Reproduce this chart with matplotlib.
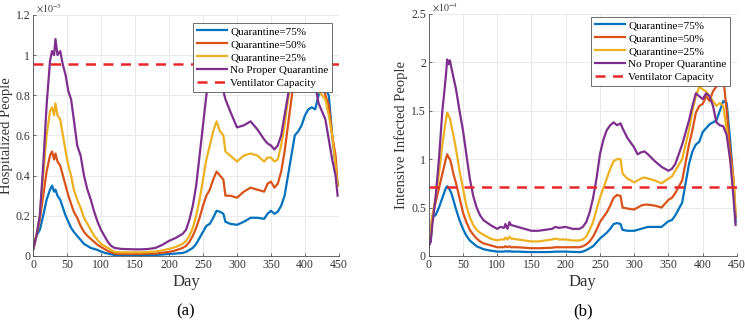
# -*- coding: utf-8 -*-

import matplotlib
matplotlib.use('Agg')
import matplotlib.pyplot as plt
from matplotlib.ticker import FuncFormatter

plt.rcParams['font.family'] = ['Liberation Serif', 'DejaVu Serif']
plt.rcParams['mathtext.fontset'] = 'stix'

# Data, panel (a): hospitalized people (units of 1e-3) ------------------------

day_a = [0, 5, 10, 15, 20, 25, 28, 31, 33, 36,
         40, 44, 48, 52, 56, 60, 65, 70, 75, 80,
         85, 90, 95, 100, 105, 110, 115, 120, 130, 140,
         150, 160, 170, 180, 190, 200, 210, 220, 225, 230,
         235, 240, 245, 250, 255, 260, 265, 270, 275, 280,
         283, 290, 300, 310, 320, 330, 340, 345, 350, 355,
         360, 365, 370, 375, 380, 385, 390, 395, 400, 405,
         410, 415, 420, 425, 430, 435, 440, 445, 448]

q75_a = [0.03, 0.10, 0.13, 0.20, 0.28, 0.33, 0.35, 0.32, 0.33, 0.30,
         0.28, 0.24, 0.20, 0.17, 0.14, 0.12, 0.10, 0.08, 0.06, 0.05,
         0.04, 0.035, 0.03, 0.022, 0.016, 0.012, 0.008, 0.005, 0.004, 0.004,
         0.004, 0.004, 0.005, 0.005, 0.007, 0.01, 0.012, 0.015, 0.02, 0.03,
         0.04, 0.06, 0.09, 0.12, 0.15, 0.16, 0.19, 0.225, 0.22, 0.21,
         0.17, 0.16, 0.155, 0.17, 0.19, 0.19, 0.185, 0.21, 0.225, 0.21,
         0.22, 0.25, 0.30, 0.40, 0.50, 0.60, 0.62, 0.65, 0.70, 0.73,
         0.74, 0.73, 0.80, 0.85, 0.83, 0.80, 0.60, 0.45, 0.35]

q50_a = [0.03, 0.10, 0.18, 0.30, 0.42, 0.50, 0.52, 0.48, 0.51, 0.47,
         0.45, 0.40, 0.35, 0.30, 0.26, 0.22, 0.19, 0.15, 0.12, 0.10,
         0.085, 0.07, 0.055, 0.045, 0.035, 0.025, 0.018, 0.012, 0.01, 0.01,
         0.01, 0.01, 0.012, 0.012, 0.016, 0.02, 0.028, 0.04, 0.05, 0.07,
         0.10, 0.14, 0.19, 0.25, 0.30, 0.33, 0.38, 0.42, 0.40, 0.38,
         0.30, 0.30, 0.29, 0.32, 0.34, 0.33, 0.32, 0.36, 0.37, 0.34,
         0.36, 0.42, 0.52, 0.65, 0.78, 0.90, 0.97, 1.00, 1.02, 1.00,
         0.98, 0.95, 0.90, 0.85, 0.80, 0.75, 0.60, 0.50, 0.35]

q25_a = [0.03, 0.10, 0.20, 0.40, 0.60, 0.72, 0.74, 0.70, 0.76, 0.70,
         0.68, 0.60, 0.52, 0.45, 0.40, 0.33, 0.28, 0.24, 0.19, 0.16,
         0.13, 0.10, 0.08, 0.06, 0.05, 0.04, 0.03, 0.02, 0.018, 0.018,
         0.018, 0.018, 0.02, 0.022, 0.028, 0.035, 0.045, 0.06, 0.075, 0.10,
         0.14, 0.20, 0.28, 0.38, 0.48, 0.55, 0.62, 0.67, 0.62, 0.60,
         0.52, 0.50, 0.47, 0.50, 0.51, 0.50, 0.47, 0.49, 0.49, 0.47,
         0.48, 0.55, 0.65, 0.78, 0.88, 0.98, 1.05, 1.08, 1.05, 1.00,
         0.95, 0.88, 0.82, 0.80, 0.78, 0.70, 0.60, 0.45, 0.35]

noq_a = [0.03, 0.10, 0.20, 0.45, 0.75, 0.97, 1.02, 1.00, 1.08, 1.00,
         1.02, 0.95, 0.90, 0.82, 0.78, 0.68, 0.55, 0.50, 0.40, 0.33,
         0.28, 0.22, 0.17, 0.13, 0.10, 0.07, 0.05, 0.04, 0.035, 0.034,
         0.033, 0.033, 0.035, 0.04, 0.055, 0.075, 0.09, 0.11, 0.13, 0.18,
         0.25, 0.35, 0.50, 0.65, 0.80, 0.92, 1.00, 1.03, 0.98, 0.82,
         0.78, 0.72, 0.64, 0.65, 0.67, 0.63, 0.58, 0.56, 0.55, 0.53,
         0.55, 0.60, 0.70, 0.80, 0.92, 1.00, 1.08, 1.12, 1.10, 1.05,
         0.95, 0.85, 0.76, 0.72, 0.68, 0.58, 0.48, 0.40, 0.30]

vent_a = 0.955

# Data, panel (b): intensive infected people (units of 1e-4) -----------------

day_b = [0, 3, 5, 10, 15, 20, 25, 27, 29, 31,
         33, 36, 40, 45, 50, 55, 60, 65, 70, 75,
         80, 90, 100, 105, 110, 112, 115, 118, 120, 130,
         140, 150, 160, 170, 180, 185, 190, 200, 210, 220,
         225, 230, 235, 240, 245, 250, 255, 260, 265, 270,
         275, 280, 283, 290, 300, 305, 310, 315, 320, 330,
         340, 350, 355, 360, 370, 380, 385, 390, 395, 400,
         405, 410, 415, 420, 425, 430, 435, 440, 445, 448]

q75_b = [0.10, 0.15, 0.40, 0.42, 0.50, 0.60, 0.70, 0.72, 0.70, 0.68,
         0.65, 0.58, 0.48, 0.37, 0.28, 0.21, 0.16, 0.13, 0.10, 0.085,
         0.07, 0.055, 0.045, 0.045, 0.045, 0.05, 0.045, 0.05, 0.045, 0.045,
         0.042, 0.04, 0.04, 0.04, 0.042, 0.045, 0.045, 0.045, 0.042, 0.04,
         0.045, 0.06, 0.08, 0.10, 0.14, 0.18, 0.21, 0.24, 0.28, 0.33,
         0.34, 0.33, 0.27, 0.26, 0.26, 0.27, 0.28, 0.29, 0.30, 0.30,
         0.30, 0.36, 0.37, 0.42, 0.55, 0.95, 1.08, 1.15, 1.18, 1.28,
         1.32, 1.36, 1.38, 1.40, 1.50, 1.60, 1.58, 1.20, 0.75, 0.35]

q50_b = [0.10, 0.20, 0.40, 0.55, 0.70, 0.85, 1.00, 1.05, 1.02, 1.00,
         0.95, 0.85, 0.75, 0.60, 0.45, 0.35, 0.27, 0.22, 0.18, 0.15,
         0.13, 0.11, 0.09, 0.09, 0.09, 0.10, 0.09, 0.10, 0.09, 0.09,
         0.085, 0.08, 0.08, 0.082, 0.085, 0.09, 0.09, 0.09, 0.09, 0.09,
         0.10, 0.12, 0.15, 0.20, 0.27, 0.35, 0.40, 0.45, 0.52, 0.60,
         0.63, 0.62, 0.50, 0.49, 0.48, 0.50, 0.52, 0.53, 0.53, 0.52,
         0.50, 0.58, 0.60, 0.65, 0.78, 1.15, 1.30, 1.48, 1.55, 1.57,
         1.65, 1.60, 1.70, 1.75, 1.80, 1.85, 1.50, 1.10, 0.80, 0.40]

q25_b = [0.10, 0.20, 0.40, 0.60, 0.85, 1.15, 1.40, 1.48, 1.45, 1.42,
         1.35, 1.25, 1.10, 0.88, 0.70, 0.52, 0.40, 0.32, 0.27, 0.24,
         0.22, 0.18, 0.16, 0.17, 0.17, 0.19, 0.17, 0.20, 0.18, 0.17,
         0.16, 0.15, 0.15, 0.16, 0.17, 0.18, 0.17, 0.17, 0.16, 0.16,
         0.17, 0.20, 0.27, 0.35, 0.48, 0.60, 0.70, 0.80, 0.90, 0.98,
         1.00, 1.00, 0.85, 0.80, 0.76, 0.78, 0.80, 0.81, 0.80, 0.78,
         0.75, 0.80, 0.82, 0.88, 1.00, 1.30, 1.50, 1.65, 1.75, 1.72,
         1.70, 1.65, 1.60, 1.55, 1.58, 1.55, 1.30, 1.00, 0.80, 0.45]

noq_b = [0.10, 0.15, 0.30, 0.60, 1.00, 1.50, 1.85, 2.03, 1.98, 2.02,
         1.95, 1.85, 1.72, 1.50, 1.30, 1.05, 0.80, 0.62, 0.50, 0.42,
         0.37, 0.32, 0.28, 0.30, 0.29, 0.33, 0.28, 0.35, 0.32, 0.30,
         0.28, 0.26, 0.26, 0.27, 0.28, 0.30, 0.29, 0.30, 0.28, 0.28,
         0.30, 0.35, 0.45, 0.60, 0.80, 1.05, 1.20, 1.30, 1.35, 1.38,
         1.35, 1.37, 1.32, 1.22, 1.12, 1.05, 1.07, 1.08, 1.05, 0.98,
         0.92, 0.88, 0.90, 0.95, 1.15, 1.40, 1.55, 1.68, 1.65, 1.62,
         1.68, 1.65, 1.55, 1.38, 1.35, 1.34, 1.25, 1.00, 0.60, 0.32]

vent_b = 0.715

labels = ['Quarantine=75%', 'Quarantine=50%', 'Quarantine=25%',
          'No Proper Quarantine', 'Ventilator Capacity']
c = ['#0072BD', '#D95319', '#EDB120', '#7E2F8E', '#E8262A']

# Figure ----------------------------------------------------------------------

fig = plt.figure(figsize=(7.45, 3.24), dpi=100)
ax1 = fig.add_axes([0.0443, 0.21, 0.4107, 0.744])
ax2 = fig.add_axes([0.5754, 0.21, 0.4138, 0.747])

panels = [
    (ax1, day_a, [q75_a, q50_a, q25_a, noq_a], vent_a, 1.2, 0.2,
     'Hospitalized People', r'$\times10^{-3}$', (0.978, 0.968)),
    (ax2, day_b, [q75_b, q50_b, q25_b, noq_b], vent_b, 2.5, 0.5,
     'Intensive Infected People', r'$\times10^{-4}$', (0.978, 0.989)),
]

for ax, d, series, vent, ymax, ystep, ylab, mult, anchor in panels:
    for i, s in enumerate(series):
        ax.plot(d, s, '-', color=c[i], lw=1.6, label=labels[i])
    ax.axhline(vent, color=c[4], ls=(0, (4, 3)), lw=1.8, label=labels[4])
    ax.set_xlim(0, 450)
    ax.set_ylim(0, ymax)
    ax.set_xticks(range(0, 451, 50))
    ax.set_yticks([ystep * k for k in range(int(round(ymax / ystep)) + 1)])
    ax.yaxis.set_major_formatter(FuncFormatter(lambda v, p: '%g' % round(v, 2)))
    ax.grid(color='#e6e6e6', lw=0.6)
    ax.set_axisbelow(True)
    for side in ['top', 'right']:
        ax.spines[side].set_visible(False)
    for side in ['left', 'bottom']:
        ax.spines[side].set_color('#4d4d4d')
        ax.spines[side].set_linewidth(0.6)
    ax.tick_params(direction='in', length=2, width=0.5, labelsize=8.5,
                   colors='#333333', pad=2)
    ax.set_xlabel('Day', fontsize=12, color='#333333', labelpad=2)
    ax.set_ylabel(ylab, fontsize=10.5, color='#333333', labelpad=2)
    ax.text(0.01, 1.0, mult, transform=ax.transAxes, fontsize=7,
            color='#333333', ha='left', va='bottom')
    leg = ax.legend(loc='upper right', bbox_to_anchor=anchor, borderaxespad=0,
                    fontsize=8, handlelength=2.7, handletextpad=0.3,
                    labelspacing=0.28, borderpad=0.35, fancybox=False,
                    framealpha=1, edgecolor='#555555')
    leg.get_frame().set_linewidth(0.6)

fig.text(186 / 745, 1 - 311 / 324, '(a)', fontsize=12, ha='center', va='center')
fig.text(583 / 745, 1 - 311 / 324, '(b)', fontsize=12, ha='center', va='center')

fig.savefig('out.png', dpi=100)
